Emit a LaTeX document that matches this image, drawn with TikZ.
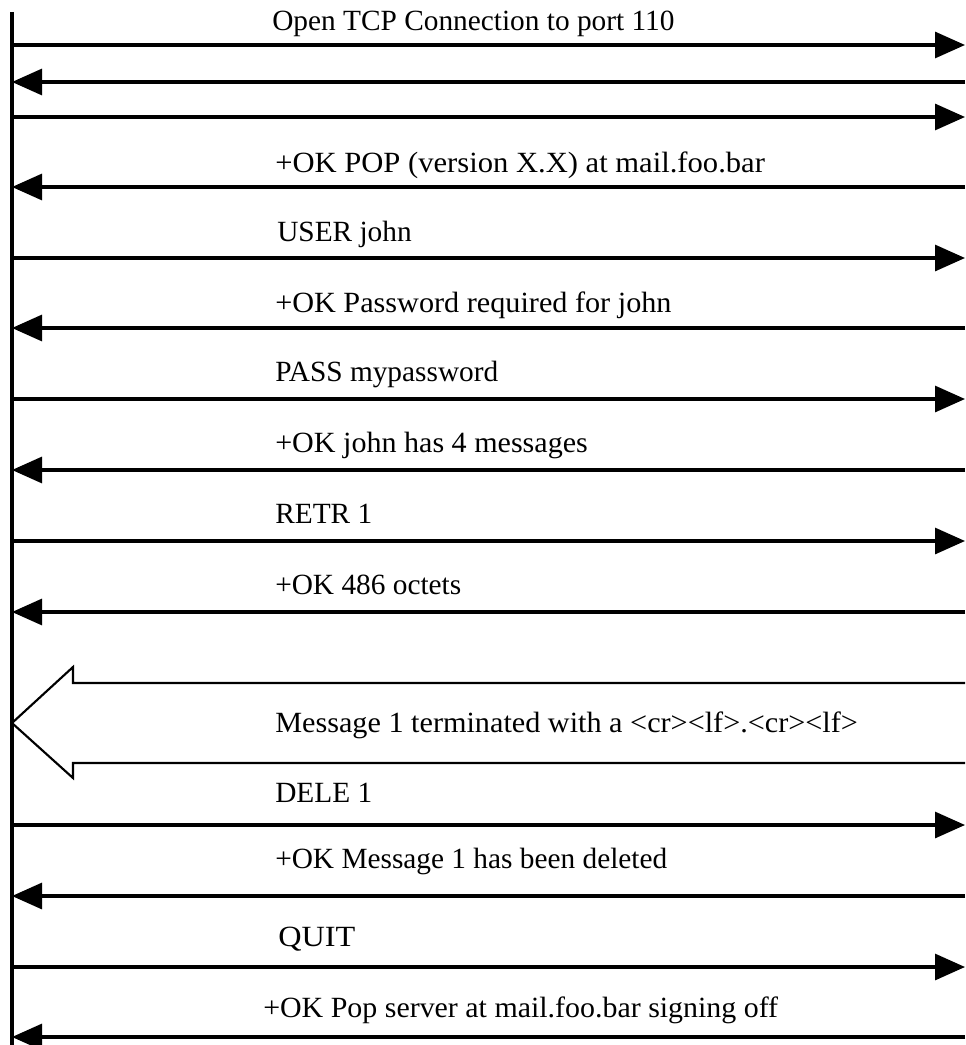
\documentclass[tikz,border=0pt]{standalone}
\usepackage{fontspec}
\usepackage{graphicx}
\setmainfont{Liberation Serif}
\usetikzlibrary{arrows.meta}
\newcommand\hsq[2]{\scalebox{#1}[1]{#2}}
\begin{document}
\begin{tikzpicture}[x=0.75pt,y=-0.75pt,
  msg/.style={line width=2.3pt,-{Triangle[length=22.5pt,width=19.5pt]}},
  lbl/.style={anchor=base west,inner sep=0pt,font=\fontsize{22}{26}\selectfont},
  hollow/.style={line width=1.6pt,line join=miter}]
\useasboundingbox (0,0) rectangle (965,1045);
% lifeline
\coordinate (top) at (12,12);
\coordinate (bot) at (12,1045);
\draw[line width=2.3pt] (top) -- (bot);
% endpoints
\foreach \n/\y in {1/45,2/82,3/117,4/187,5/258,6/328,7/399,8/470,9/541,10/612,12/825,13/896,14/967,15/1037}{
  \coordinate (L\n) at (12,\y);
  \coordinate (R\n) at (965,\y);
}
\draw[msg] (L1) -- (R1);
\draw[msg] (R2) -- (L2);
\draw[msg] (L3) -- (R3);
\draw[msg] (R4) -- (L4);
\draw[msg] (L5) -- (R5);
\draw[msg] (R6) -- (L6);
\draw[msg] (L7) -- (R7);
\draw[msg] (R8) -- (L8);
\draw[msg] (L9) -- (R9);
\draw[msg] (R10) -- (L10);
\draw[msg] (L12) -- (R12);
\draw[msg] (R13) -- (L13);
\draw[msg] (L14) -- (R14);
\draw[msg] (R15) -- (L15);
% hollow block arrow
\coordinate (HT) at (965,683);
\coordinate (HB) at (965,763);
\coordinate (tip) at (12,723);
\draw[hollow] (HT) -- (73,683) -- (73,667) -- (tip) -- (73,778) -- (73,763) -- (HB);
% labels
\node[lbl] (t1) at (272,31) {Open TCP Connection to port 110};
\node[lbl] (t4) at (275,172) {\hsq{1.043}{+OK POP (version X.X) at mail.foo.bar}};
\node[lbl] (t5) at (277,241) {USER john};
\node[lbl] (t6) at (275,312) {\hsq{1.03}{+OK Password required for john}};
\node[lbl] (t7) at (275,381) {PASS mypassword};
\node[lbl] (t8) at (275,452) {\hsq{1.025}{+OK john has 4 messages}};
\node[lbl] (t9) at (275,523) {RETR 1};
\node[lbl] (t10) at (275,594) {+OK 486 octets};
\node[lbl] (t11) at (275,732) {\hsq{1.03}{Message 1 terminated with a <cr><lf>.<cr><lf>}};
\node[lbl] (t12) at (275,802) {DELE 1};
\node[lbl] (t13) at (275,868) {+OK Message 1 has been deleted};
\node[lbl] (t14) at (278,946) {\hsq{1.1}{QUIT}};
\node[lbl] (t15) at (263,1017) {\hsq{1.02}{+OK Pop server at mail.foo.bar signing off}};
\end{tikzpicture}
\end{document}
